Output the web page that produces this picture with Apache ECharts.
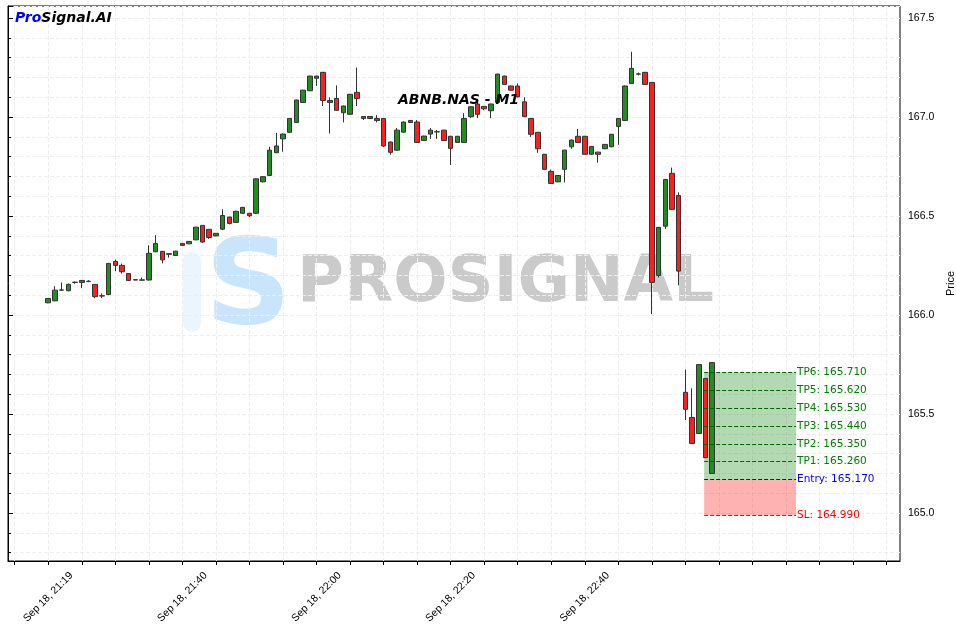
<!DOCTYPE html>
<html><head><meta charset="utf-8">
<script src="https://cdn.jsdelivr.net/npm/echarts@6/dist/echarts.min.js"></script>
<style>html,body{margin:0;padding:0;background:#fff}#c{width:956px;height:631px}</style>
</head><body><div id="c"></div>
<script>
const opens=[166.062,166.072,166.126,166.123,166.165,166.165,166.170,166.155,166.096,166.104,166.271,166.251,166.210,166.179,166.176,166.177,166.320,166.322,166.307,166.301,166.362,166.360,166.380,166.453,166.433,166.400,166.434,166.495,166.468,166.514,166.514,166.514,166.673,166.705,166.820,166.890,166.923,166.973,167.074,167.133,167.196,167.226,167.074,167.094,167.022,167.014,167.125,166.993,166.993,166.993,166.993,166.874,166.833,166.924,166.983,166.975,166.882,166.914,166.925,166.934,166.903,166.872,166.872,167.002,167.066,167.054,167.032,167.074,167.207,167.157,167.157,167.077,166.993,166.923,166.812,166.726,166.673,166.736,166.850,166.903,166.903,166.812,166.823,166.840,166.850,166.953,166.983,167.170,167.217,167.226,167.175,166.200,166.449,166.716,166.604,165.610,165.483,165.402,165.680,165.200];
const closes=[166.084,166.126,166.127,166.155,166.166,166.175,166.171,166.093,166.098,166.261,166.251,166.219,166.175,166.177,166.178,166.312,166.362,166.279,166.310,166.323,166.352,166.372,166.444,166.369,166.392,166.413,166.503,166.463,166.524,166.544,166.502,166.688,166.699,166.833,166.854,166.914,166.993,167.086,167.136,167.207,167.207,167.084,167.084,167.034,167.056,167.115,167.094,167.003,167.003,166.983,166.854,166.822,166.934,166.975,166.973,166.872,166.904,166.934,166.926,166.882,166.842,166.903,166.993,167.052,167.014,167.042,167.066,167.217,167.165,167.136,167.102,167.002,166.913,166.840,166.736,166.665,166.705,166.833,166.884,166.872,166.812,166.852,166.812,166.862,166.913,166.993,167.157,167.246,167.218,167.165,166.165,166.443,166.685,166.534,166.222,165.524,165.352,165.750,165.280,165.760];
const highs=[166.086,166.146,166.165,166.160,166.170,166.177,166.176,166.155,166.110,166.262,166.280,166.260,166.210,166.180,166.190,166.352,166.404,166.322,166.310,166.324,166.363,166.373,166.446,166.455,166.434,166.414,166.534,166.497,166.527,166.546,166.516,166.690,166.701,166.850,166.920,166.917,166.995,167.088,167.138,167.209,167.209,167.228,167.100,167.160,167.058,167.117,167.250,167.005,167.005,167.010,166.995,166.876,166.945,166.977,166.985,166.985,166.906,166.945,166.935,166.936,166.905,166.905,167.020,167.054,167.080,167.055,167.068,167.219,167.209,167.159,167.170,167.100,166.995,166.925,166.814,166.735,166.707,166.835,166.886,166.940,166.905,166.854,166.825,166.864,166.915,166.995,167.159,167.330,167.225,167.228,167.177,166.445,166.687,166.745,166.620,165.725,165.630,165.752,165.682,165.762];
const lows=[166.060,166.070,166.123,166.120,166.158,166.136,166.166,166.085,166.086,166.100,166.222,166.210,166.173,166.176,166.175,166.175,166.318,166.261,166.290,166.300,166.350,166.358,166.378,166.365,166.385,166.398,166.430,166.458,166.465,166.512,166.495,166.512,166.670,166.703,166.818,166.825,166.921,166.971,167.072,167.131,167.157,167.056,166.917,167.032,166.973,167.012,167.056,166.985,166.990,166.973,166.850,166.810,166.830,166.922,166.971,166.870,166.880,166.890,166.890,166.880,166.758,166.870,166.870,166.995,166.995,167.035,166.995,167.072,167.163,167.134,167.100,167.000,166.900,166.820,166.734,166.663,166.671,166.670,166.840,166.870,166.810,166.810,166.770,166.838,166.848,166.860,166.981,167.168,167.210,167.163,166.005,166.190,166.435,166.532,166.150,165.470,165.350,165.400,165.278,165.198];
const tickLabels={6:'Sep 18, 21:19',26:'Sep 18, 21:40',46:'Sep 18, 22:00',66:'Sep 18, 22:20',86:'Sep 18, 22:40'};
const tpNames=['TP1','TP2','TP3','TP4','TP5','TP6'];
const tpValues=[165.26,165.35,165.44,165.53,165.62,165.71];
const entryValue=165.17, slValue=164.99;
const leadSlots=6, totalSlots=134;
const zoneStart=103.8, zoneEnd=117.5;

const cats=[];for(let i=0;i<totalSlots;i++)cats.push(String(i));
const cdata=[];for(let i=0;i<totalSlots;i++){const k=i-leadSlots;cdata.push(k>=0&&k<opens.length?[opens[k],closes[k],lows[k],highs[k]]:'-');}
const green='#008000';
const mlines=tpNames.map((n,i)=>[{coord:[zoneStart,tpValues[i]],lineStyle:{color:'#006400'},label:{formatter:n+': '+tpValues[i].toFixed(3),color:green}},{coord:[zoneEnd,tpValues[i]]}]);
mlines.push([{coord:[zoneStart,entryValue],lineStyle:{color:'#0000ff'},label:{formatter:'Entry: '+entryValue.toFixed(3),color:'#0000ff'}},{coord:[zoneEnd,entryValue]}]);
mlines.push([{coord:[zoneStart,slValue],lineStyle:{color:'#ff0000'},label:{formatter:'SL: '+slValue.toFixed(3),color:'#ff0000'}},{coord:[zoneEnd,slValue]}]);

const chart=echarts.init(document.getElementById('c'));
chart.setOption({
 animation:false,
 grid:{left:8,right:56,top:6,bottom:70,outerBoundsMode:'none',containLabel:false,show:true,borderColor:'#000',borderWidth:1,backgroundColor:'transparent'},
 title:[{text:'ABNB.NAS - M1',left:393,top:88,textStyle:{fontSize:14,fontWeight:'bold',fontStyle:'italic',color:'#000',fontFamily:'DejaVu Sans'}}],
 graphic:[
  {type:'text',left:15,top:11,style:{text:'{a|Pro}{b|Signal.AI}',rich:{a:{fill:'#0000ff',fontSize:14,fontWeight:'bold',fontStyle:'italic',fontFamily:'DejaVu Sans'},b:{fill:'#000',fontSize:14,fontWeight:'bold',fontStyle:'italic',fontFamily:'DejaVu Sans'}}},z:10},
  {type:'text',left:297,top:252,style:{text:'PROSIGNAL',fill:'rgba(150,150,150,0.5)',fontSize:64,fontWeight:'bold',fontFamily:'DejaVu Sans'},z:0},
  {type:'text',left:205,top:232,style:{text:'S',fill:'rgba(120,190,245,0.4)',fontSize:120,fontWeight:'bold',fontFamily:'DejaVu Sans'},z:0},
  {type:'rect',left:183,top:252,shape:{width:18,height:80,r:9},style:{fill:'rgba(120,190,245,0.15)'},z:0}
 ],
 xAxis:[
  {type:'category',data:cats,boundaryGap:false,axisLine:{lineStyle:{color:'#000'}},
   axisTick:{interval:(i)=>(i-leadSlots)%5===0,length:4,lineStyle:{color:'#000'}},
   axisLabel:{interval:(i)=>(i-leadSlots)%20===0,rotate:45,align:'center',verticalAlign:'middle',fontSize:10.5,color:'#000',formatter:(v)=>tickLabels[v]||'',margin:36},
   splitLine:{show:true,interval:(i)=>(i-leadSlots)%5===0,lineStyle:{color:'#eee',type:'dashed'}}},
  {type:'value',min:0,max:totalSlots-1,show:false}
 ],
 yAxis:{type:'value',position:'right',min:164.758,max:167.561,splitNumber:5,scale:true,
  name:'Price',nameLocation:'middle',nameGap:42,nameRotate:90,nameTextStyle:{fontSize:11,color:'#000'},
  axisLine:{show:true,lineStyle:{color:'#000'}},axisTick:{show:true,length:5,lineStyle:{color:'#000'}},
  minorTick:{show:true,splitNumber:5,length:3,lineStyle:{color:'#000'}},
  axisLabel:{fontSize:10.5,color:'#000',formatter:(v)=>Math.abs(v*2-Math.round(v*2))<1e-6?v.toFixed(1):''},
  splitLine:{show:true,lineStyle:{color:'#eee',type:'dashed'}},
  minorSplitLine:{show:true,lineStyle:{color:'#eee',type:'dashed'}}},
 series:[
  {type:'candlestick',xAxisIndex:0,data:cdata,barWidth:5,
   itemStyle:{color:'#228b22',color0:'#ff1e1e',borderColor:'#333',borderColor0:'#333',borderWidth:1}},
  {type:'line',xAxisIndex:1,data:[[zoneStart,entryValue],[zoneEnd,entryValue]],symbol:'none',lineStyle:{opacity:0},z:5,silent:true,
   markArea:{silent:true,data:[
    [{coord:[zoneStart,tpValues[5]],itemStyle:{color:'rgba(0,128,0,0.3)'}},{coord:[zoneEnd,entryValue]}],
    [{coord:[zoneStart,entryValue],itemStyle:{color:'rgba(255,0,0,0.3)'}},{coord:[zoneEnd,slValue]}]]},
   markLine:{silent:true,symbol:['none','none'],lineStyle:{type:'dashed',width:1},label:{position:'end',distance:1,fontSize:10.5,fontFamily:'DejaVu Sans'},data:mlines}}
 ]
});
</script></body></html>
